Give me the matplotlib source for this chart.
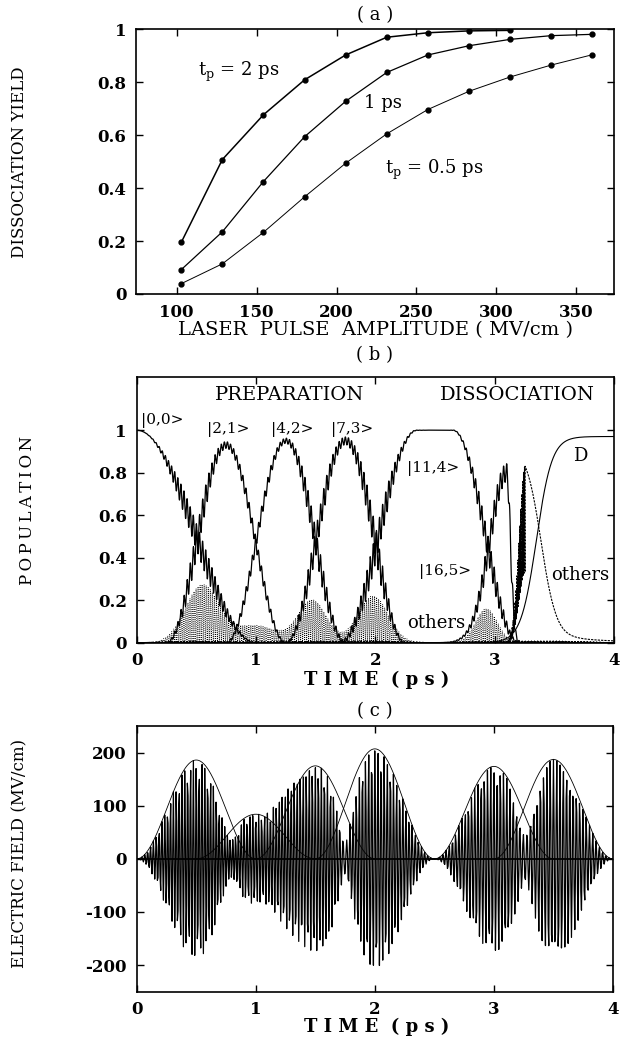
import numpy as np
import matplotlib
matplotlib.use('Agg')
import matplotlib.pyplot as plt

plt.rcParams['font.family'] = ['DejaVu Serif', 'Liberation Serif']
plt.rcParams['mathtext.fontset'] = 'dejavuserif'
plt.rcParams['axes.unicode_minus'] = False

# ---------------- Panel (a) data ----------------
amplitude = [102.9, 128.6, 154.3, 180.0, 205.7, 231.4, 257.1, 282.9, 308.6, 334.3, 360.0]
yield_2ps = [0.195, 0.508, 0.677, 0.809, 0.903, 0.970, 0.987, 0.994, 0.996]
yield_1ps = [0.092, 0.235, 0.425, 0.594, 0.728, 0.837, 0.903, 0.938, 0.962, 0.976, 0.981]
yield_05ps = [0.039, 0.114, 0.233, 0.367, 0.494, 0.605, 0.697, 0.766, 0.820, 0.865, 0.904]

# ---------------- Panel (c) pulse parameters ----------------
pulse_center = [0.5, 1.0, 1.5, 2.0, 3.0, 3.5]          # ps
pulse_amp = [186, 84, 175, 207, 174, 187]              # MV/cm
pulse_period = [0.0240, 0.0247, 0.0253, 0.0261, 0.0268, 0.0275]  # ps
pulse_length = 1.0                                      # ps

# ---------------- Panel (b) population parameters ----------------
state_labels = ['|0,0>', '|2,1>', '|4,2>', '|7,3>', '|11,4>', '|16,5>']
bump_center = [0.75, 1.25, 1.75]      # |2,1>, |4,2>, |7,3>
bump_height = [0.93, 0.95, 0.95]
plateau_rise = [1.70, 2.35]           # |11,4> rise start/end
plateau_fall = [2.65, 3.20]           # |11,4> fall start/end
s16_peak = [3.10, 0.80, 0.20, 0.045]  # time, height, sigma left, sigma right
late_peak = [3.255, 0.83, 0.07, 3.39, 0.06]  # time, height, sigma left, fall centre, fall width
d_step = [3.35, 0.065, 0.97]          # centre, width, plateau
others_center = [0.55, 1.00, 1.47, 1.98, 2.93]
others_height = [0.27, 0.08, 0.20, 0.22, 0.16]
others_sigma = [0.20, 0.25, 0.17, 0.18, 0.13]


def envelope(t, c, length):
    u = (t - c) / length
    return np.where(np.abs(u) < 0.5, np.cos(np.pi * u) ** 2, 0.0)


def rc_step(t, a, b):
    u = np.clip((t - a) / (b - a), 0, 1)
    return 0.5 - 0.5 * np.cos(np.pi * u)


fig = plt.figure(figsize=(6.2, 10.4), dpi=100)
W, H = 620.0, 1040.0


def add_ax(l, r, top, bot):
    return fig.add_axes([l / W, 1 - bot / H, (r - l) / W, (bot - top) / H])


def style(ax):
    ax.tick_params(direction='in', top=True, right=True, length=5, width=1,
                   labelsize=12, pad=7)
    for lab in ax.get_xticklabels() + ax.get_yticklabels():
        lab.set_fontweight('bold')
    for s in ax.spines.values():
        s.set_linewidth(1.2)

# ---------------- Panel (a) ----------------
axa = add_ax(136, 614, 29.3, 294)
axa.plot(amplitude[:len(yield_2ps)], yield_2ps, '-o', color='black', lw=1.1, ms=3.5)
axa.plot(amplitude, yield_1ps, '-o', color='black', lw=0.9, ms=3.5)
axa.plot(amplitude, yield_05ps, '-o', color='black', lw=0.7, ms=3.5)
axa.set_xlim(74.6, 373.5)
axa.set_ylim(0, 1)
axa.set_xticks([100, 150, 200, 250, 300, 350])
axa.set_yticks([0, 0.2, 0.4, 0.6, 0.8, 1])
axa.set_yticklabels(['0', '0.2', '0.4', '0.6', '0.8', '1'])
style(axa)
axa.text(113.3, 0.838, r'$\mathregular{t_p}$ = 2 ps', fontsize=13, va='center', ha='left')
axa.text(217, 0.72, '1 ps', fontsize=13, va='center', ha='left')
axa.text(230, 0.468, r'$\mathregular{t_p}$ = 0.5 ps', fontsize=13, va='center', ha='left')
axa.set_xlabel('LASER  PULSE  AMPLITUDE ( MV/cm )', fontsize=14, labelpad=0)
fig.text(20 / W, 1 - 162 / H, 'DISSOCIATION YIELD', rotation=90, fontsize=12,
         ha='center', va='center')
fig.text(375 / W, 1 - 15 / H, '( a )', fontsize=13, ha='center', va='center')

# ---------------- common time grids ----------------
t_fine = np.linspace(0, 4, 16001)
t_field = np.arange(0, 4.0001, 0.0056)

env_total = np.zeros_like(t_fine)
for c, a in zip(pulse_center, pulse_amp):
    env_total += a * envelope(t_fine, c, pulse_length)
env_norm = env_total / 200.0
osc = 0.065 * env_norm * np.sin(2 * np.pi * t_fine / 0.026)

# ---------------- Panel (b) ----------------
axb = add_ax(136.7, 614, 377, 642.7)
tt = t_fine
p00 = np.where(tt < 1.0, np.cos(np.pi * np.clip(tt, 0, 1) / 2) ** 2, 0.0)
curves = [p00]
for c, h in zip(bump_center, bump_height):
    curves.append(h * envelope(tt, c, 1.0))
p114 = rc_step(tt, *plateau_rise) * (1 - rc_step(tt, *plateau_fall))
curves.append(p114)
tp, hp, sl, sr = s16_peak
p165 = hp * np.where(tt < tp, np.exp(-((tt - tp) / sl) ** 2), np.exp(-((tt - tp) / sr) ** 2))
curves.append(p165)
for p in curves:
    y = np.clip(p + osc * np.minimum(1, 4 * p * (1 - p) + 0.1), 0, 1.0)
    axb.plot(tt, y, color='black', lw=0.9)

# late "others"
tl, hl, sll, fc, fw = late_peak
late = hl * np.where(tt < tl, np.exp(-((tt - tl) / sll) ** 2),
                     1 / (1 + np.exp((tt - fc) / fw)) / (1 / (1 + np.exp((tl - fc) / fw))))
late = late + 0.03 * np.exp(-np.clip(tt - 3.5, 0, None) / 0.4) * rc_step(tt, 3.3, 3.5)
late_osc = np.where(tt < tl, late * (0.7 + 0.3 * np.sin(2 * np.pi * tt / 0.008)), late)
axb.plot(tt, late_osc, color='black', lw=0.8, ls=(0, (2, 1)))

# dissociation
dc, dw, dp = d_step
D = dp / (1 + np.exp(-(tt - dc) / dw))
axb.plot(tt, D, color='black', lw=0.8)

# "others" background
oth = np.zeros_like(tt)
for c, h, s in zip(others_center, others_height, others_sigma):
    oth += h * np.exp(-((tt - c) / s) ** 2)
oth_osc = oth * (0.5 + 0.5 * np.sin(2 * np.pi * tt / 0.017))
axb.plot(tt, oth_osc, color='black', lw=0.6, ls=(0, (1, 1.5)))

axb.set_xlim(0, 4)
axb.set_ylim(0, 1.25)
axb.set_xticks([0, 1, 2, 3, 4])
axb.set_yticks([0, 0.2, 0.4, 0.6, 0.8, 1])
axb.set_yticklabels(['0', '0.2', '0.4', '0.6', '0.8', '1'])
style(axb)
axb.text(1.285, 1.165, 'PREPARATION', fontsize=14, ha='center', va='center')
axb.text(3.19, 1.165, 'DISSOCIATION', fontsize=14, ha='center', va='center')
label_x = [0.04, 0.59, 1.126, 1.63, 2.265, 2.366]
label_y = [1.047, 1.005, 1.005, 1.005, 0.82, 0.334]
for s, x, y in zip(state_labels, label_x, label_y):
    axb.text(x, y, s, fontsize=11, ha='left', va='center')
axb.text(3.47, 0.318, 'others', fontsize=13, ha='left', va='center')
axb.text(2.265, 0.093, 'others', fontsize=13, ha='left', va='center')
axb.text(3.66, 0.88, 'D', fontsize=13, ha='left', va='center')
fig.text(28 / W, 1 - 510 / H, 'P\u2009O\u2009P\u2009U\u2009L\u2009A\u2009T\u2009I\u2009O\u2009N',
         rotation=90, fontsize=12, ha='center', va='center')
fig.text(375 / W, 1 - 355 / H, '( b )', fontsize=13, ha='center', va='center')
fig.text(377 / W, 1 - 680 / H, 'T I M E  ( p s )', fontsize=13, ha='center',
         va='center', fontweight='bold')

# ---------------- Panel (c) ----------------
axc = add_ax(136.7, 613, 726, 991.7)
field = np.zeros_like(t_field)
for c, a, per in zip(pulse_center, pulse_amp, pulse_period):
    field += a * envelope(t_field, c, pulse_length) * np.cos(2 * np.pi * (t_field - c) / per)
axc.plot(t_field, field, color='black', lw=0.9)
for c, a in zip(pulse_center, pulse_amp):
    te = np.linspace(c - pulse_length / 2, c + pulse_length / 2, 300)
    axc.plot(te, a * envelope(te, c, pulse_length), color='black', lw=0.6)
axc.axhline(0, color='black', lw=1.3)
axc.set_xlim(0, 4)
axc.set_ylim(-250, 250)
axc.set_xticks([0, 1, 2, 3, 4])
axc.set_yticks([-200, -100, 0, 100, 200])
style(axc)
fig.text(20 / W, 1 - 853 / H, 'ELECTRIC FIELD (MV/cm)', rotation=90, fontsize=12,
         ha='center', va='center')
fig.text(375 / W, 1 - 711 / H, '( c )', fontsize=13, ha='center', va='center')
fig.text(377 / W, 1 - 1027 / H, 'T I M E  ( p s )', fontsize=13, ha='center',
         va='center', fontweight='bold')

fig.savefig('out.png', dpi=100)
